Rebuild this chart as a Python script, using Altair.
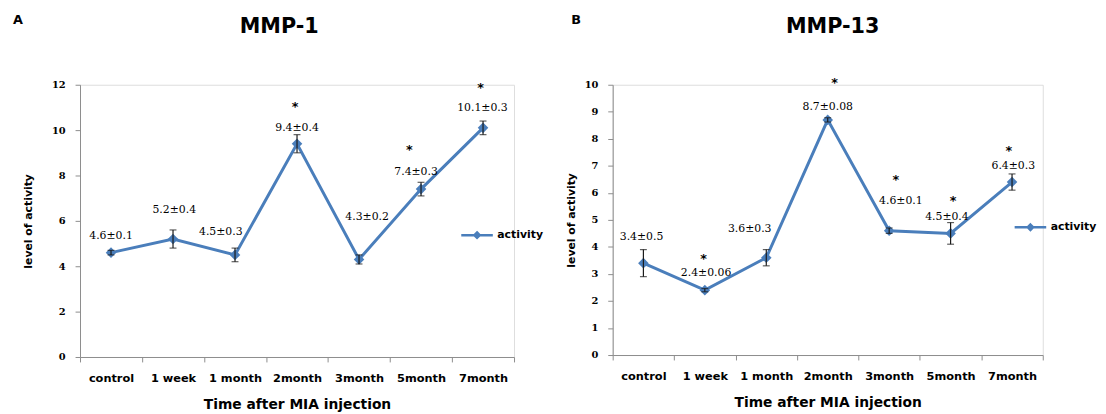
import altair as alt
import pandas as pd

BLUE = "#4A7EBB"
SANS = "DejaVu Sans"
SERIF = "DejaVu Serif"

categories = ["control", "1 week", "1 month", "2month", "3month", "5month", "7month"]

# Panel A: MMP-1
mmp1_mean = [4.6, 5.2, 4.5, 9.4, 4.3, 7.4, 10.1]
mmp1_err = [0.1, 0.4, 0.3, 0.4, 0.2, 0.3, 0.3]
mmp1_text = ["4.6±0.1", "5.2±0.4", "4.5±0.3", "9.4±0.4", "4.3±0.2", "7.4±0.3", "10.1±0.3"]
mmp1_sig = [False, False, False, True, False, True, True]
# where the data labels / asterisks sit (category-index units, value units)
mmp1_label_x = [0.0, 1.02, 1.77, 3.0, 4.13, 4.92, 5.99]
mmp1_label_y = [5.34, 6.48, 5.52, 10.07, 6.18, 8.15, 10.99]
mmp1_star_x = [None, None, None, 2.97, None, 4.81, 5.96]
mmp1_star_y = [None, None, None, 11.13, None, 9.24, 12.0]

# Panel B: MMP-13
mmp13_mean = [3.4, 2.4, 3.6, 8.7, 4.6, 4.5, 6.4]
mmp13_err = [0.5, 0.06, 0.3, 0.08, 0.1, 0.4, 0.3]
mmp13_text = ["3.4±0.5", "2.4±0.06", "3.6±0.3", "8.7±0.08", "4.6±0.1", "4.5±0.4", "6.4±0.3"]
mmp13_sig = [False, True, False, True, True, True, True]
mmp13_label_x = [-0.03, 1.02, 1.73, 3.0, 4.19, 4.94, 6.02]
mmp13_label_y = [4.35, 3.03, 4.65, 9.19, 5.68, 5.12, 7.01]
mmp13_star_x = [None, 0.98, None, 3.11, 4.11, 5.04, 5.95]
mmp13_star_y = [None, 3.65, None, 10.18, 6.57, 5.82, 7.64]

series_name = "activity"


def panel(means, errs, texts, sig, lab_x, lab_y, star_x, star_y, y_ticks,
          letter, title, width, height, title_dx, ytitle_x, legend_x, legend_y):
    n = len(categories)
    df = pd.DataFrame({
        "idx": list(range(n)),
        "mean": means,
        "lo": [m - e for m, e in zip(means, errs)],
        "hi": [m + e for m, e in zip(means, errs)],
        "series": [series_name] * n,
    })
    lab_df = pd.DataFrame({"x": lab_x, "y": lab_y, "text": texts})
    star_df = pd.DataFrame({
        "x": [sx for sx, s in zip(star_x, sig) if s],
        "y": [sy for sy, s in zip(star_y, sig) if s],
    })

    cat_js = "[" + ",".join("'" + c + "'" for c in categories) + "]"
    x_scale = alt.Scale(domain=[-0.5, n - 0.5], nice=False, zero=False)
    x_axis = alt.Axis(
        values=[i / 2 - 0.5 for i in range(2 * n + 1)],
        labelExpr="datum.value % 1 == 0 ? " + cat_js + "[datum.value] : ''",
        tickOpacity={"condition": {"test": "datum.value % 1 == 0", "value": 0}, "value": 1},
        labelOverlap=False, labelFlush=False, grid=False,
        domainColor="#8c8c8c", tickColor="#8c8c8c", tickSize=5,
        labelFont=SANS, labelFontSize=11.5, labelFontWeight="bold", labelColor="black",
        labelPadding=11,
        title="Time after MIA injection", titleFont=SANS, titleFontSize=14,
        titleFontWeight="bold", titleColor="black", titlePadding=14,
    )
    y_scale = alt.Scale(domain=[y_ticks[0], y_ticks[-1]], nice=False)
    y_axis = alt.Axis(
        values=y_ticks, grid=False,
        domainColor="#8c8c8c", tickColor="#8c8c8c", tickSize=5,
        labelFont=SERIF, labelFontSize=10, labelFontWeight="bold", labelColor="black",
        labelPadding=10,
        title="level of activity", titleFont=SANS, titleFontSize=11,
        titleFontWeight="bold", titleColor="black",
        titleX=ytitle_x, titleY=height / 2, titleAngle=270,
        titleAlign="center", titleBaseline="middle",
    )
    X = alt.X("idx:Q", scale=x_scale, axis=x_axis)
    Y = alt.Y("mean:Q", scale=y_scale, axis=y_axis)

    legend = alt.Legend(
        orient="none", legendX=legend_x, legendY=legend_y, title=None, padding=0,
        symbolType="M-1,0H1M0,-0.17L0.17,0L0,0.17L-0.17,0Z",
        symbolSize=1024, symbolStrokeWidth=2.5,
        symbolFillColor=BLUE, symbolStrokeColor=BLUE,
        labelFont=SANS, labelFontSize=11, labelFontWeight="bold", labelColor="black",
        labelOffset=3,
    )

    line = alt.Chart(df).mark_line(strokeWidth=3).encode(
        x=X, y=Y,
        color=alt.Color("series:N", scale=alt.Scale(range=[BLUE]), legend=legend),
    )
    pts = alt.Chart(df).mark_point(shape="diamond", filled=True, size=115, opacity=1).encode(
        x=X, y=Y, color=alt.value(BLUE)
    )
    err = alt.Chart(df).mark_errorbar(ticks={"size": 7}, thickness=1.2, color="#1a1a1a").encode(
        x=X,
        y=alt.Y("lo:Q", scale=y_scale, axis=y_axis),
        y2="hi:Q",
    )
    labels = alt.Chart(lab_df).mark_text(
        font=SERIF, fontSize=11, color="black", baseline="middle", align="center"
    ).encode(
        x=alt.X("x:Q", scale=x_scale, axis=x_axis),
        y=alt.Y("y:Q", scale=y_scale, axis=y_axis),
        text="text:N",
    )
    stars = alt.Chart(star_df).mark_text(
        text="*", font=SANS, fontSize=13, fontWeight="bold", color="black",
        baseline="middle", align="center", dy=3,
    ).encode(
        x=alt.X("x:Q", scale=x_scale, axis=x_axis),
        y=alt.Y("y:Q", scale=y_scale, axis=y_axis),
    )
    letter_mark = alt.Chart(pd.DataFrame({"t": [letter]})).mark_text(
        font=SANS, fontSize=13, fontWeight="bold", color="black",
        align="left", baseline="alphabetic",
    ).encode(text="t:N", x=alt.value(-68 if letter == "A" else -42), y=alt.value(-62))
    title_mark = alt.Chart(pd.DataFrame({"t": [title]})).mark_text(
        font=SANS, fontSize=21, fontWeight="bold", color="black",
        align="center", baseline="alphabetic",
    ).encode(text="t:N", x=alt.value(width / 2 + title_dx), y=alt.value(-52))

    return alt.layer(line, pts, err, labels, stars, letter_mark, title_mark).properties(
        width=width, height=height
    )


chart_a = panel(mmp1_mean, mmp1_err, mmp1_text, mmp1_sig, mmp1_label_x, mmp1_label_y,
                mmp1_star_x, mmp1_star_y, list(range(0, 13, 2)),
                "A", "MMP-1", 440, 276, -18, -52, 385, 135)
chart_b = panel(mmp13_mean, mmp13_err, mmp13_text, mmp13_sig, mmp13_label_x, mmp13_label_y,
                mmp13_star_x, mmp13_star_y, list(range(0, 11, 1)),
                "B", "MMP-13", 436, 274, 5, -42, 406, 127)

chart = alt.hconcat(chart_a, chart_b, spacing=100, bounds="flush").resolve_scale(
    color="independent", x="independent", y="independent"
).properties(
    padding={"left": 4, "top": 2, "right": 0, "bottom": 0}
).configure_view(strokeWidth=0).configure(background="white")

chart.save("out.html", embed_options={"renderer": "svg", "actions": False})
